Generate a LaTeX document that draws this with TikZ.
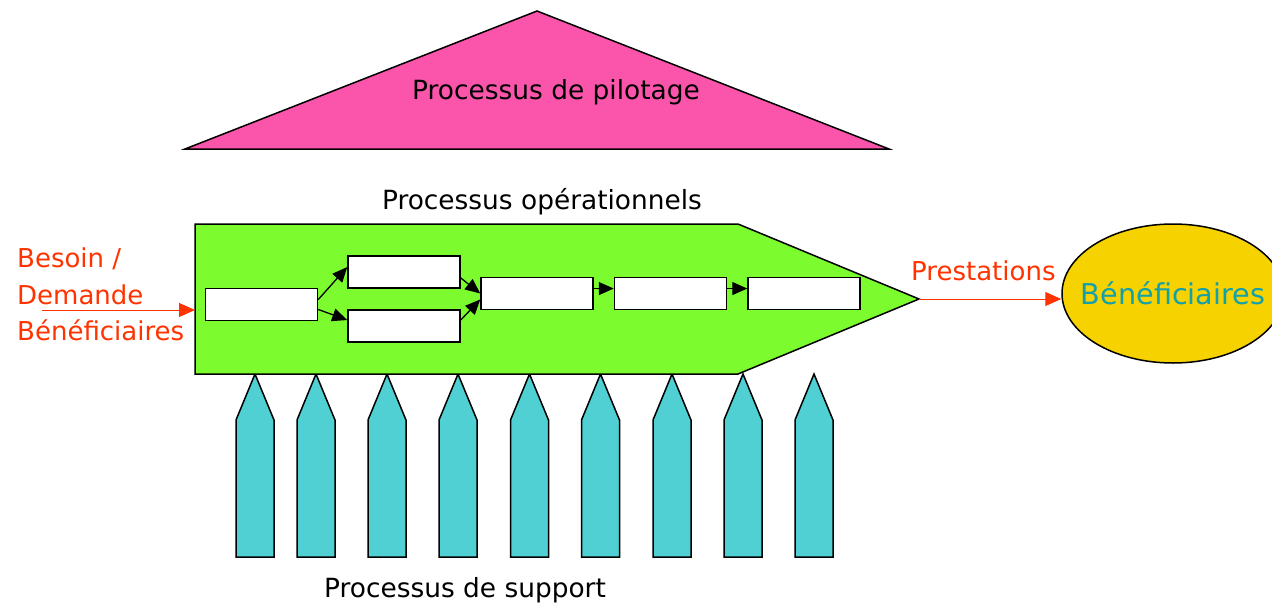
\documentclass[tikz,border=0pt]{standalone}
\usepackage{fontspec}
\setmainfont{DejaVu Sans}
\usepackage{tikz}
\usetikzlibrary{positioning,calc,shapes.geometric,arrows.meta}
\definecolor{pilotpink}{RGB}{250,85,170}
\definecolor{opgreen}{RGB}{124,252,46}
\definecolor{supcyan}{RGB}{80,208,210}
\definecolor{bengold}{RGB}{245,210,0}
\definecolor{benteal}{RGB}{20,160,170}
\definecolor{flowred}{RGB}{255,51,0}

\begin{document}
\begin{tikzpicture}[
    x=1pt, y=-1pt,
    lbl/.style={font=\fontsize{26.4}{31}\selectfont, inner sep=0pt},
    redlbl/.style={font=\fontsize{26}{36.3}\selectfont, text=flowred, inner sep=0pt},
    procbox/.style={rectangle, draw, fill=white, line width=1.5pt, minimum width=112pt, minimum height=32pt, inner sep=0pt},
    pillar/.style={draw, fill=supcyan, line width=1.5pt},
    flow/.style={-{Triangle[length=15pt,width=13pt]}, line width=1.3pt},
    inflow/.style={-{Triangle[length=16pt,width=14pt]}, draw=flowred, fill=flowred, line width=1pt}
]
    \useasboundingbox (0,0) rectangle (1272,603);

    % Pilotage
    \draw[fill=pilotpink, line width=1.5pt] (185,149) -- (537,11) -- (889,149) -- cycle;
    \node[lbl, anchor=base] (pil) at (556,99) {Processus de pilotage};

    % Support
    \foreach \cx in {255,316,387,458,529.5,600.5,672,743,814}
        \draw[pillar] (\cx-19,557) -- (\cx-19,420) -- (\cx,374) -- (\cx+19,420) -- (\cx+19,557) -- cycle;
    \node[lbl, anchor=base] (sup) at (465,597) {Processus de support};

    % Operationnels
    \node[lbl, anchor=base] (ops) at (542,209) {Processus opérationnels};
    \draw[fill=opgreen, line width=1.5pt] (195,224) -- (738,224) -- (919,299) -- (738,374) -- (195,374) -- cycle;
    \coordinate (opin) at (195,310);
    \coordinate (optip) at (919,299);

    \node[procbox] (b1) at (261.5,304.5) {};
    \node[procbox] (b2) at (404,272) {};
    \node[procbox] (b3) at (404,326) {};
    \node[procbox] (b4) at (537,293.5) {};
    \node[procbox, right=20pt of b4] (b5) {};
    \node[procbox, right=20pt of b5] (b6) {};
    \draw[flow] (b1.5) -- (b2.175);
    \draw[flow] (b1.-5) -- (b3.174);
    \draw[flow] (b2.-6) -- (b4.west);
    \draw[flow] (b3.6) -- (b4.-174);
    \draw[flow] (b4.5) -- (b5.175);
    \draw[flow] (b5.5) -- (b6.175);

    % Besoin
    \node[redlbl, align=left, anchor=north west] (need) at (17,248) {Besoin /\\Demande\\Bénéficiaires};
    \coordinate (needtail) at (42,310);
    \draw[inflow] (needtail) -- (opin);

    % Beneficiaires
    \node[ellipse, draw, fill=bengold, line width=1.5pt, minimum width=222pt, minimum height=139pt,
        inner xsep=-16pt, inner ysep=0pt, text=benteal, font=\fontsize{28.7}{34}\selectfont] (ben) at (1173,293.5) {Bénéficiaires};
    \node[redlbl, anchor=base west] (prest) at (911,280) {Prestations};
    \draw[inflow] (optip) -- (optip -| ben.west);
\end{tikzpicture}
\end{document}
